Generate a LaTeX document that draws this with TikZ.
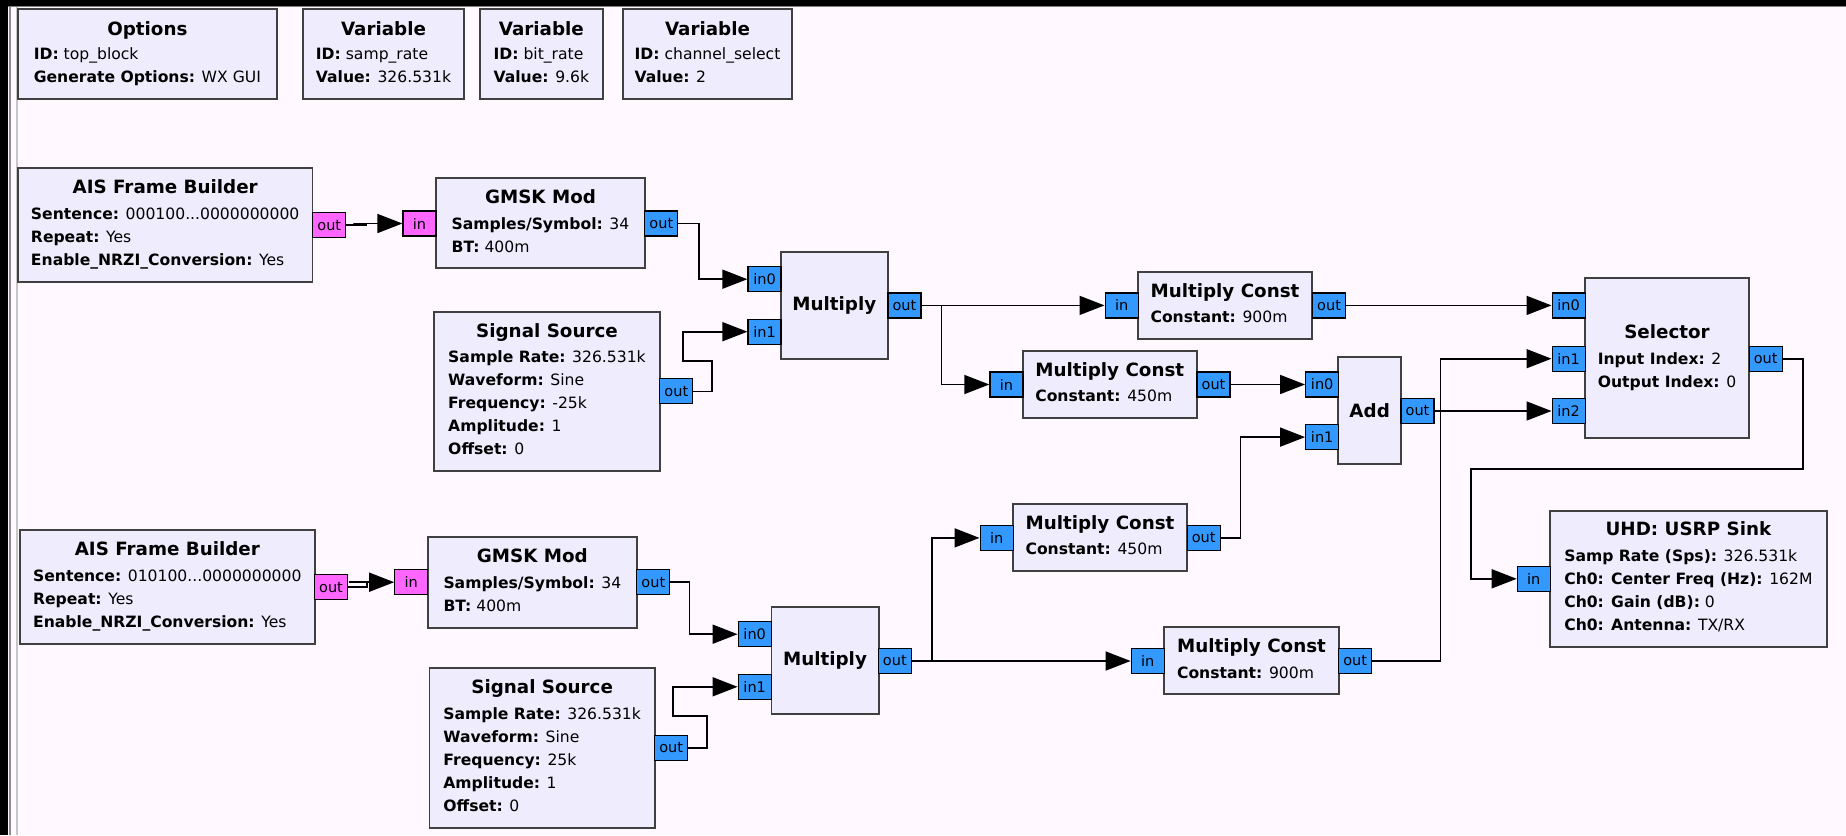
\documentclass[tikz,border=0pt]{standalone}
\usepackage{fontspec}
\setmainfont{DejaVu Sans}
\usetikzlibrary{arrows.meta}
\definecolor{grcbg}{HTML}{FFF9FF}
\definecolor{blkfill}{HTML}{EFEDFD}
\definecolor{portblue}{HTML}{3399FF}
\definecolor{portpink}{HTML}{FF66FF}
\newcommand\ttl{\fontsize{18.3}{23}\selectfont\bfseries}
\newcommand\prm[2]{\textbf{#1:} #2}
\tikzset{
  blk/.style={draw=black!75, line width=1.8pt, fill=blkfill, inner sep=0pt, font=\fontsize{15.6}{23}\selectfont},
  port/.style={draw=black, line width=1.2pt, fill=portblue, minimum width=33pt, minimum height=25pt, inner sep=0pt, font=\fontsize{14.5}{17}\selectfont},
  bport/.style={port, fill=portpink},
  conn/.style={line width=1.6pt, -{Triangle[length=25pt,width=19pt]}},
}
\begin{document}
\begin{tikzpicture}[x=1pt,y=-1pt]
\useasboundingbox (0,0) rectangle (1846,835);
\fill[grcbg] (0,0) rectangle (1846,835);
% window frame
\fill[black] (0,0) rectangle (1846,5.7);
\fill[black] (0,0) rectangle (8.3,835);
\fill[black!50] (8.3,5.7) rectangle (1846,7.3);
\fill[black!45] (9,7.3) rectangle (10.7,835);
\fill[black!22] (15.7,7.3) rectangle (17.5,835);

% variables
\node[blk, minimum width=258.9pt, minimum height=90pt] (opt) at (147.35,54) {\begin{tabular}{@{}l@{}}\multicolumn{1}{@{}c@{}}{\ttl Options}\\[1pt] \prm{ID}{top\_block}\\ \prm{Generate Options}{WX GUI}\end{tabular}};
\node[blk, minimum width=161.6pt, minimum height=90pt] (vsr) at (383.5,54) {\begin{tabular}{@{}l@{}}\multicolumn{1}{@{}c@{}}{\ttl Variable}\\[1pt] \prm{ID}{samp\_rate}\\ \prm{Value}{326.531k}\end{tabular}};
\node[blk, minimum width=122.7pt, minimum height=90pt] (vbr) at (541.35,54) {\begin{tabular}{@{}l@{}}\multicolumn{1}{@{}c@{}}{\ttl Variable}\\[1pt] \prm{ID}{bit\_rate}\\ \prm{Value}{9.6k}\end{tabular}};
\node[blk, minimum width=169pt, minimum height=90pt] (vcs) at (707.5,54) {\begin{tabular}{@{}l@{}}\multicolumn{1}{@{}c@{}}{\ttl Variable}\\[1pt] \prm{ID}{channel\_select}\\ \prm{Value}{2}\end{tabular}};

% upper chain
\node[blk, minimum width=294.6pt, minimum height=113.4pt] (ais1) at (165.2,225) {\begin{tabular}{@{}l@{}}\multicolumn{1}{@{}c@{}}{\ttl AIS Frame Builder}\\[2.7pt] \prm{Sentence}{000100...0000000000}\\ \prm{Repeat}{Yes}\\ \prm{Enable\_NRZI\_Conversion}{Yes}\end{tabular}};
\node[bport] (ais1_out) at (329.3,225.2) {out};
\node[blk, minimum width=209pt, minimum height=90pt] (gmsk1) at (540.5,223.3) {\begin{tabular}{@{}l@{}}\multicolumn{1}{@{}c@{}}{\ttl GMSK Mod}\\[2.7pt] \prm{Samples/Symbol}{34}\\ \prm{BT}{400m}\end{tabular}};
\node[bport] (gmsk1_in) at (419.5,223.5) {in};
\node[port] (gmsk1_out) at (661.3,223.5) {out};
\node[blk, minimum width=225.5pt, minimum height=159.3pt] (ss1) at (547,391.35) {\begin{tabular}{@{}l@{}}\multicolumn{1}{@{}c@{}}{\ttl Signal Source}\\[2.7pt] \prm{Sample Rate}{326.531k}\\ \prm{Waveform}{Sine}\\ \prm{Frequency}{-25k}\\ \prm{Amplitude}{1}\\ \prm{Offset}{0}\end{tabular}};
\node[port] (ss1_out) at (676.3,391.3) {out};
\node[blk, minimum width=107.1pt, minimum height=107pt] (mul1) at (834.35,305.8) {\ttl Multiply};
\node[port] (mul1_in0) at (764.5,279.2) {in0};
\node[port] (mul1_in1) at (764.5,331.7) {in1};
\node[port] (mul1_out) at (904.4,305.4) {out};
\node[blk, minimum width=174pt, minimum height=67.3pt] (mc900a) at (1225,305.35) {\begin{tabular}{@{}l@{}}\multicolumn{1}{@{}c@{}}{\ttl Multiply Const}\\[2.7pt] \prm{Constant}{900m}\end{tabular}};
\node[port] (mc900a_in) at (1121.6,305.4) {in};
\node[port] (mc900a_out) at (1329.1,305.4) {out};
\node[blk, minimum width=174.1pt, minimum height=67.6pt] (mc450a) at (1109.75,384.5) {\begin{tabular}{@{}l@{}}\multicolumn{1}{@{}c@{}}{\ttl Multiply Const}\\[2.7pt] \prm{Constant}{450m}\end{tabular}};
\node[port] (mc450a_in) at (1006.4,384.5) {in};
\node[port] (mc450a_out) at (1213.5,384.5) {out};
\node[blk, minimum width=62.7pt, minimum height=106.7pt] (add) at (1369.65,410.65) {\ttl Add};
\node[port] (add_in0) at (1322.2,384.5) {in0};
\node[port] (add_in1) at (1322.2,437.1) {in1};
\node[port] (add_out) at (1417.5,411) {out};
\node[blk, minimum width=164.4pt, minimum height=160pt] (sel) at (1667,358.3) {\begin{tabular}{@{}l@{}}\multicolumn{1}{@{}c@{}}{\ttl Selector}\\[2.7pt] \prm{Input Index}{2}\\ \prm{Output Index}{0}\end{tabular}};
\node[port] (sel_in0) at (1568.6,305.4) {in0};
\node[port] (sel_in1) at (1568.6,358.7) {in1};
\node[port] (sel_in2) at (1568.6,411) {in2};
\node[port] (sel_out) at (1765.7,358.7) {out};
\node[blk, minimum width=276.8pt, minimum height=136pt] (usrp) at (1688.4,578.7) {\begin{tabular}{@{}l@{}}\multicolumn{1}{@{}c@{}}{\ttl UHD: USRP Sink}\\[2.7pt] \prm{Samp Rate (Sps)}{326.531k}\\ \prm{Ch0: Center Freq (Hz)}{162M}\\ \prm{Ch0: Gain (dB)}{0}\\ \prm{Ch0: Antenna}{TX/RX}\end{tabular}};
\node[port] (usrp_in) at (1533.8,578.8) {in};

% lower chain
\node[blk, minimum width=294.7pt, minimum height=114pt] (ais2) at (167.35,587) {\begin{tabular}{@{}l@{}}\multicolumn{1}{@{}c@{}}{\ttl AIS Frame Builder}\\[2.7pt] \prm{Sentence}{010100...0000000000}\\ \prm{Repeat}{Yes}\\ \prm{Enable\_NRZI\_Conversion}{Yes}\end{tabular}};
\node[bport] (ais2_out) at (331,587.2) {out};
\node[blk, minimum width=209.3pt, minimum height=91pt] (gmsk2) at (532.35,582.2) {\begin{tabular}{@{}l@{}}\multicolumn{1}{@{}c@{}}{\ttl GMSK Mod}\\[2.7pt] \prm{Samples/Symbol}{34}\\ \prm{BT}{400m}\end{tabular}};
\node[bport] (gmsk2_in) at (411.3,582.2) {in};
\node[port] (gmsk2_out) at (653.3,582.2) {out};
\node[blk, minimum width=225.5pt, minimum height=159.4pt] (ss2) at (542.15,748) {\begin{tabular}{@{}l@{}}\multicolumn{1}{@{}c@{}}{\ttl Signal Source}\\[2.7pt] \prm{Sample Rate}{326.531k}\\ \prm{Waveform}{Sine}\\ \prm{Frequency}{25k}\\ \prm{Amplitude}{1}\\ \prm{Offset}{0}\end{tabular}};
\node[port] (ss2_out) at (671.2,747.9) {out};
\node[blk, minimum width=107.2pt, minimum height=106.7pt] (mul2) at (825,660.65) {\ttl Multiply};
\node[port] (mul2_in0) at (754.7,634.2) {in0};
\node[port] (mul2_in1) at (754.7,686.8) {in1};
\node[port] (mul2_out) at (894.8,661) {out};
\node[blk, minimum width=174pt, minimum height=66.7pt] (mc450b) at (1100,537.35) {\begin{tabular}{@{}l@{}}\multicolumn{1}{@{}c@{}}{\ttl Multiply Const}\\[2.7pt] \prm{Constant}{450m}\end{tabular}};
\node[port] (mc450b_in) at (996.6,537.9) {in};
\node[port] (mc450b_out) at (1203.7,537.9) {out};
\node[blk, minimum width=174.5pt, minimum height=66.7pt] (mc900b) at (1251.5,660.65) {\begin{tabular}{@{}l@{}}\multicolumn{1}{@{}c@{}}{\ttl Multiply Const}\\[2.7pt] \prm{Constant}{900m}\end{tabular}};
\node[port] (mc900b_in) at (1147.7,661) {in};
\node[port] (mc900b_out) at (1355.2,661) {out};

% connections
\draw[conn] (ais1_out.east) -- ++(20,0) |- ([xshift=-49pt]gmsk1_in.west) -- (gmsk1_in.west);
\draw[conn] (gmsk1_out.east) -- ++(20.6,0) |- (mul1_in0.west);
\draw[conn] (ss1_out.east) -- ++(18.8,0) -- ++(0,-30.3) -- ++(-29,0) |- (mul1_in1.west);
\draw[conn] (mul1_out.east) -- (mc900a_in.west);
\draw[conn] (mul1_out.east) -- ++(20,0) |- (mc450a_in.west);
\draw[conn] (mc900a_out.east) -- (sel_in0.west);
\draw[conn] (mc450a_out.east) -- (add_in0.west);
\draw[conn] (add_out.east) -- (sel_in2.west);
\draw[conn] (sel_out.east) -- ++(20,0) -- ++(0,110) -- ++(-332,0) |- (usrp_in.west);
\draw[conn] (ais2_out.east) -- ++(19,0) |- ([xshift=-45pt]gmsk2_in.west) -- (gmsk2_in.west);
\draw[conn] (gmsk2_out.east) -- ++(19.2,0) |- (mul2_in0.west);
\draw[conn] (ss2_out.east) -- ++(18.8,0) -- ++(0,-32) -- ++(-34.3,0) |- (mul2_in1.west);
\draw[conn] (mul2_out.east) -- (mc900b_in.west);
\draw[conn] (mul2_out.east) -- ++(20.2,0) |- (mc450b_in.west);
\draw[conn] (mc450b_out.east) -- ++(19.5,0) |- (add_in1.west);
\draw[conn] (mc900b_out.east) -- ++(68,0) |- (sel_in1.west);
\end{tikzpicture}
\end{document}
